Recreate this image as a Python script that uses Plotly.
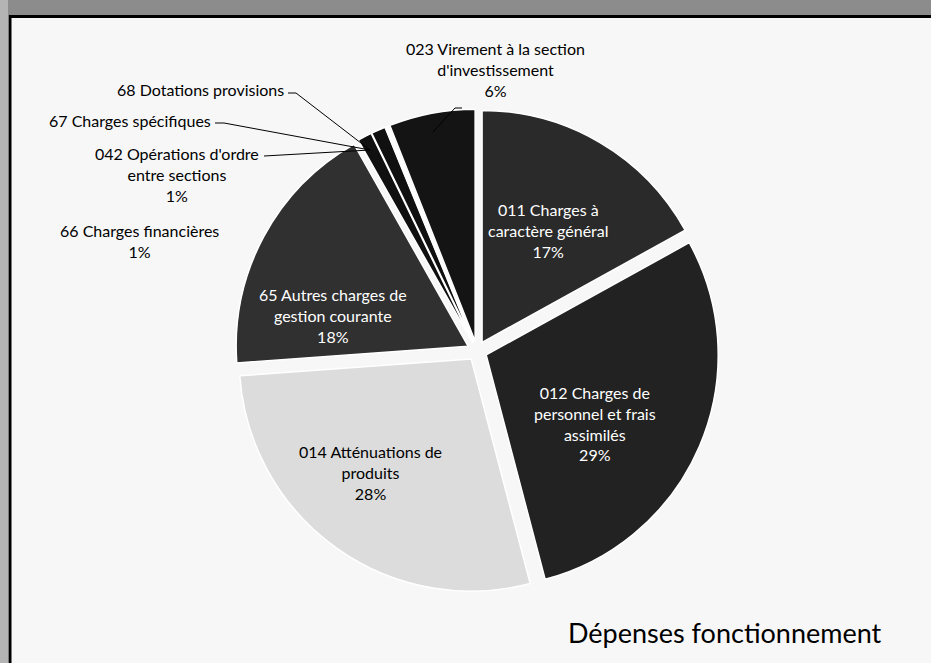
import plotly.graph_objects as go

W, H = 931, 663

labels = [
    "011 Charges à caractère général",
    "012 Charges de personnel et frais assimilés",
    "014 Atténuations de produits",
    "65 Autres charges de gestion courante",
    "66 Charges financières",
    "042 Opérations d'ordre entre sections",
    "67 Charges spécifiques",
    "68 Dotations provisions",
    "023 Virement à la section d'investissement",
]
values = [17, 29, 28, 18, 1, 1, 0.1, 0.1, 6]
pct_text = ["17%", "29%", "28%", "18%", "1%", "1%", "", "", "6%"]
colors = ["#2a2a2a", "#222222", "#dcdcdc", "#303030",
          "#101010", "#101010", "#101010", "#101010", "#141414"]


def px(x, y):
    return x / W, 1 - y / H


# pie centre and outer radius (pixels)
cx, cy, r0 = 477, 351, 242

fig = go.Figure()
fig.add_trace(go.Pie(
    labels=labels, values=values, textinfo="none",
    marker=dict(colors=colors, line=dict(color="white", width=1.5)),
    pull=0.043, sort=False, direction="clockwise", rotation=0,
    showlegend=False, hoverinfo="label+percent",
    domain=dict(x=[(cx - r0) / W, (cx + r0) / W],
                y=[1 - (cy + r0) / H, 1 - (cy - r0) / H]),
))

ann = []


def label(x, y, txt, xanchor="center", color="black"):
    ax, ay = px(x, y)
    ann.append(dict(x=ax, y=ay, xref="paper", yref="paper", text=txt, showarrow=False,
                    font=dict(family="Lato", size=16, color=color),
                    xanchor=xanchor, yanchor="middle", align="center"))


def leader(x0, y0, x1, y1):
    fig.add_shape(type="line", xref="paper", yref="paper",
                  x0=x0 / W, y0=1 - y0 / H, x1=x1 / W, y1=1 - y1 / H,
                  line=dict(color="black", width=1))


# labels inside the big slices
label(548, 230, "011 Charges à<br>caractère général<br>" + pct_text[0], color="white")
label(595, 424, "012 Charges de<br>personnel et frais<br>assimilés<br>" + pct_text[1], color="white")
label(370, 472, "014 Atténuations de<br>produits<br>" + pct_text[2])
label(333, 315, "65 Autres charges de<br>gestion courante<br>" + pct_text[3], color="white")

# labels outside
label(495, 70, "023 Virement à la section<br>d'investissement<br>" + pct_text[8])
label(286, 90, labels[7], xanchor="right")
label(213, 120, labels[6], xanchor="right")
label(177, 175, "042 Opérations d'ordre<br>entre sections<br>" + pct_text[5])
label(139, 241, "66 Charges financières<br>" + pct_text[4])

leader(288, 93, 296, 93)
leader(296, 93, 370, 150)
leader(215, 123, 224, 123)
leader(224, 123, 370, 150)
leader(264, 156, 370, 150)
leader(433, 132, 455, 108)
leader(455, 108, 462, 108)

ann.append(dict(x=725 / W, y=1 - 632 / H, xref="paper", yref="paper",
                text="Dépenses fonctionnement", showarrow=False,
                font=dict(family="Lato", size=27, color="black"),
                xanchor="center", yanchor="middle"))

# scanned page frame
fig.add_shape(type="rect", xref="paper", yref="paper", x0=0, x1=1,
              y0=1 - 15 / H, y1=1, fillcolor="#8c8c8c", line_width=0, layer="below")
fig.add_shape(type="line", xref="paper", yref="paper", x0=9 / W, x1=1,
              y0=1 - 16.5 / H, y1=1 - 16.5 / H, line=dict(color="black", width=3))
fig.add_shape(type="rect", xref="paper", yref="paper", x0=0, x1=8 / W,
              y0=0, y1=1, fillcolor="#b4b4b4", line_width=0, layer="below")
fig.add_shape(type="line", xref="paper", yref="paper", x0=10 / W, x1=10 / W,
              y0=0, y1=1 - 15 / H, line=dict(color="black", width=3))

fig.update_layout(
    width=W, height=H, margin=dict(l=0, r=0, t=0, b=0),
    paper_bgcolor="#f7f7f7", plot_bgcolor="#f7f7f7",
    annotations=ann,
)

fig.write_html("out.html", config={"displayModeBar": False},
               post_script="document.body.style.margin='0';document.body.style.overflow='hidden';")
